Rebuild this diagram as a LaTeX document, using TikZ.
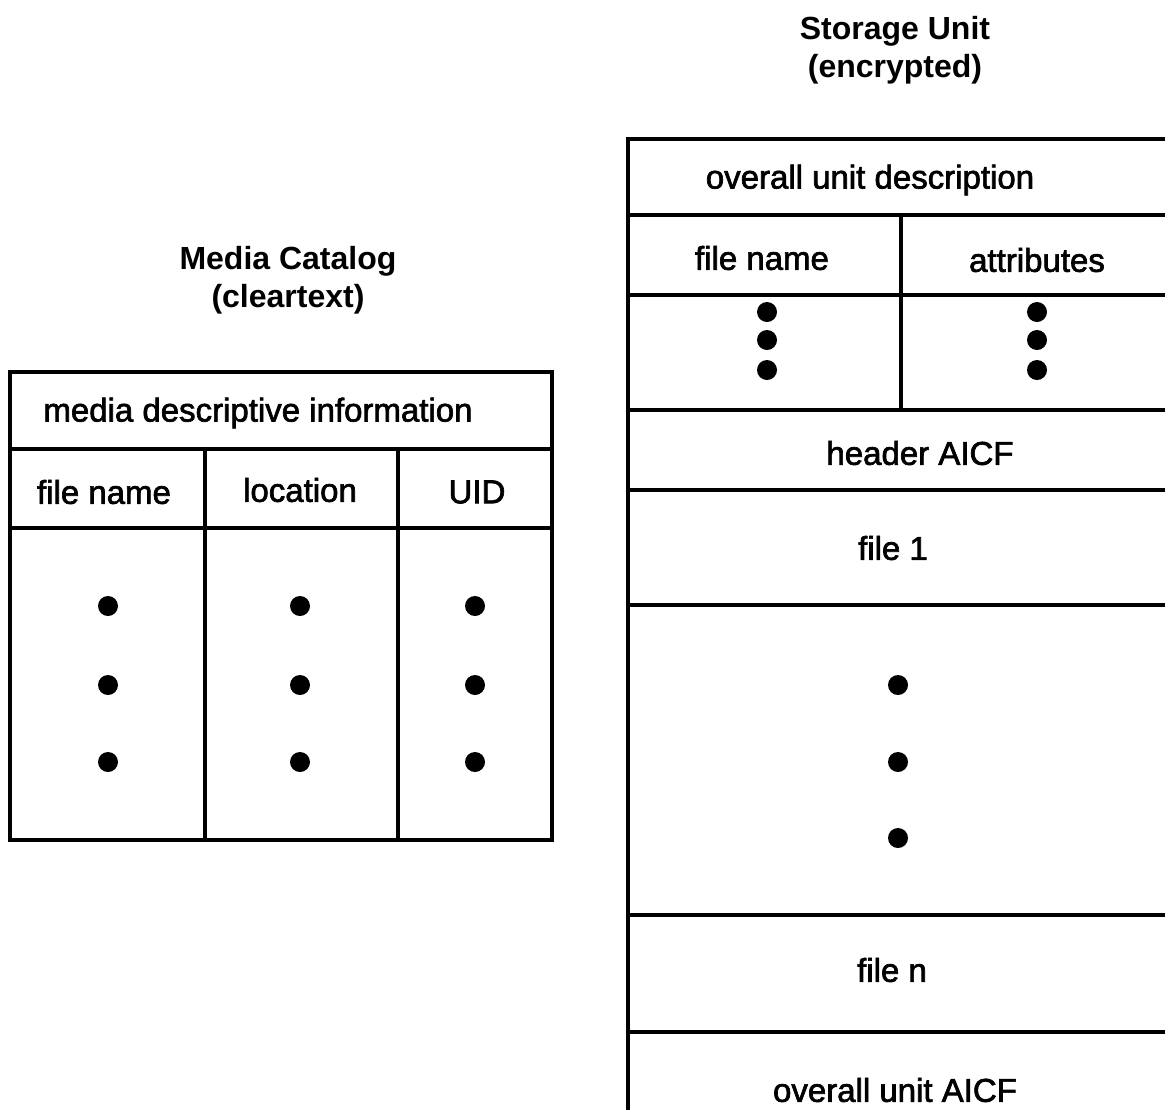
\documentclass[tikz,border=0pt]{standalone}
\usepackage{fontspec}
\setmainfont{Liberation Sans}
\newfontfamily\lblfont[FakeBold=2]{Liberation Sans}
\begin{document}
\begin{tikzpicture}[x=1pt,y=-1pt,
  rule/.style={line width=3.6pt, line cap=rect},
  lbl/.style={inner sep=0pt, font=\lblfont\fontsize{33}{38}\selectfont},
  ttl/.style={inner sep=0pt, font=\fontsize{32}{38}\selectfont\bfseries, align=center},
  dot/.style={circle, fill=black, inner sep=0pt, minimum size=20pt}]
\clip (0,0) rectangle (1165,1109);
\fill[white] (0,0) rectangle (1165,1109);
% ---------- Media Catalog ----------
\node[ttl] (mctitle) at (288,280) {Media Catalog\\(cleartext)};
\draw[rule] (10,372) rectangle (552,840);
\draw[rule] (10,449) -- (552,449);
\draw[rule] (10,528) -- (552,528);
\draw[rule] (205,449) -- (205,840);
\draw[rule] (398,449) -- (398,840);
\node[lbl] (mdi) at (258,413) {media descriptive information};
\node[lbl] (mfn) at (104,492) {file name};
\node[lbl] (mloc) at (300,490) {location};
\node[lbl] (muid) at (477,492) {UID};
\foreach \x/\n in {108/a,300/b,475/c}{
  \foreach \y/\m in {606/1,685/2,762/3}{
    \node[dot] (m\n\m) at (\x,\y) {};
  }
}
% ---------- Storage Unit ----------
\node[ttl] (sutitle) at (895,50) {Storage Unit\\(encrypted)};
\draw[rule] (1200,139) -- (628,139) -- (628,1120);
\foreach \y in {215,295,410,490,605,915,1032}{
  \draw[rule] (628,\y) -- (1200,\y);
}
\draw[rule] (901,215) -- (901,410);
\node[lbl] (sud) at (870,180) {overall unit description};
\node[lbl] (sfn) at (762,258) {file name};
\node[lbl] (sat) at (1037,260) {attributes};
\foreach \y/\m in {312/1,340/2,370/3}{
  \node[dot] (sa\m) at (767,\y) {};
  \node[dot] (sb\m) at (1037,\y) {};
}
\node[lbl] (shdr) at (920,453) {header AICF};
\node[lbl] (sf1) at (893,548) {file 1};
\foreach \y/\m in {685/1,762/2,838/3}{
  \node[dot] (sc\m) at (898,\y) {};
}
\node[lbl] (sfn2) at (892,970) {file n};
\node[lbl] (saicf) at (895,1090) {overall unit AICF};
\end{tikzpicture}
\end{document}
